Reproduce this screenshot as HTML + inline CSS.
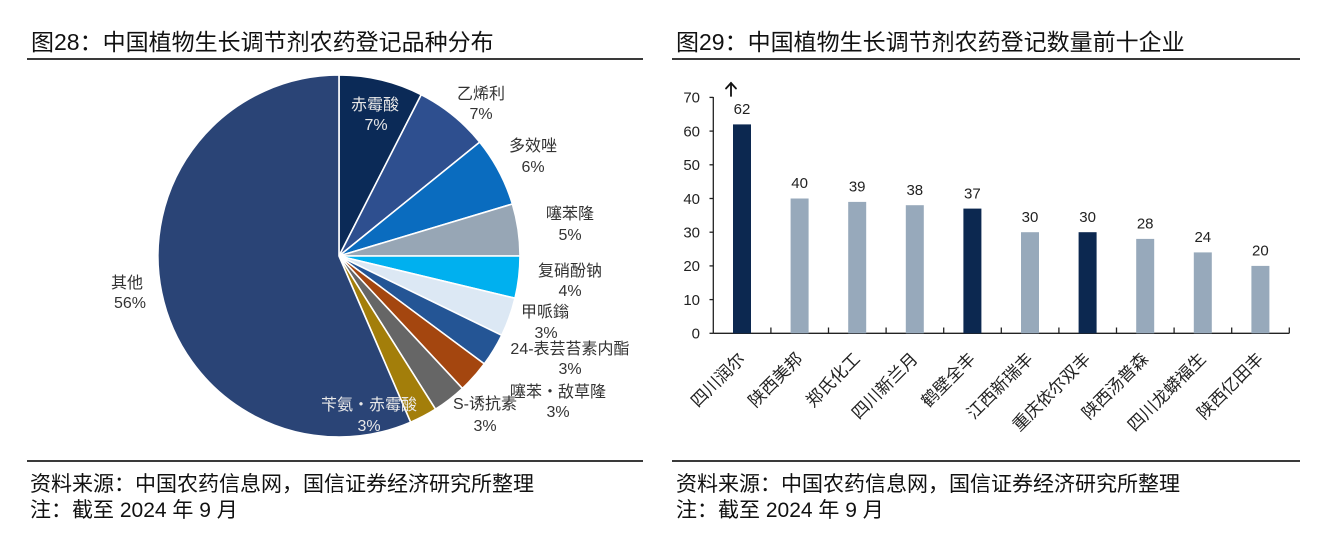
<!DOCTYPE html>
<html><head><meta charset="utf-8"><style>
html,body{margin:0;padding:0;background:#fff;}
svg{display:block;}
text{font-family:"Liberation Sans","Noto Sans CJK SC",sans-serif;}
</style></head><body>
<svg width="1328" height="533" viewBox="0 0 1328 533" xmlns="http://www.w3.org/2000/svg">
<rect width="1328" height="533" fill="#fff"/>
<!-- Titles -->
<text x="31" y="50" font-size="23" fill="#111">图28：中国植物生长调节剂农药登记品种分布</text>
<text x="676" y="50" font-size="23" fill="#111">图29：中国植物生长调节剂农药登记数量前十企业</text>
<line x1="27" y1="59" x2="643" y2="59" stroke="#3a3a3a" stroke-width="2"/>
<line x1="672" y1="59" x2="1300" y2="59" stroke="#3a3a3a" stroke-width="2"/>
<line x1="27" y1="461" x2="643" y2="461" stroke="#3a3a3a" stroke-width="2"/>
<line x1="672" y1="461" x2="1300" y2="461" stroke="#3a3a3a" stroke-width="2"/>
<!-- Footers -->
<text x="30" y="491" font-size="21" fill="#111">资料来源：中国农药信息网，国信证券经济研究所整理</text>
<text x="30" y="517" font-size="21" fill="#111">注：截至 2024 年 9 月</text>
<text x="676" y="491" font-size="21" fill="#111">资料来源：中国农药信息网，国信证券经济研究所整理</text>
<text x="676" y="517" font-size="21" fill="#111">注：截至 2024 年 9 月</text>

<!-- Pie -->
<g stroke="#fff" stroke-width="1.6" stroke-linejoin="round">
<path d="M339,256 L339,75 A181,181 0 0 1 421.2,94.7 Z" fill="#0b2a57"/>
<path d="M339,256 L421.2,94.7 A181,181 0 0 1 479.7,142.1 Z" fill="#2e4f8f"/>
<path d="M339,256 L479.7,142.1 A181,181 0 0 1 512.4,204.0 Z" fill="#0a6cbf"/>
<path d="M339,256 L512.4,204.0 A181,181 0 0 1 520,256 Z" fill="#97a6b5"/>
<path d="M339,256 L520,256 A181,181 0 0 1 515.0,298.2 Z" fill="#00b0ef"/>
<path d="M339,256 L515.0,298.2 A181,181 0 0 1 501.7,335.3 Z" fill="#dce8f4"/>
<path d="M339,256 L501.7,335.3 A181,181 0 0 1 484.3,363.9 Z" fill="#245595"/>
<path d="M339,256 L484.3,363.9 A181,181 0 0 1 462.4,388.4 Z" fill="#a4460f"/>
<path d="M339,256 L462.4,388.4 A181,181 0 0 1 435.5,409.2 Z" fill="#666666"/>
<path d="M339,256 L435.5,409.2 A181,181 0 0 1 410.6,422.2 Z" fill="#a37e0a"/>
<path d="M339,256 L410.6,422.2 A181,181 0 1 1 339,75 Z" fill="#2a4476"/>
</g>
<g font-size="16" text-anchor="middle" fill="#333">
<text x="375" y="110" fill="#e8e8e8">赤霉酸</text>
<text x="376" y="130" fill="#e8e8e8">7%</text>
<text x="481" y="99">乙烯利</text>
<text x="481" y="119">7%</text>
<text x="533" y="151">多效唑</text>
<text x="533" y="172">6%</text>
<text x="570" y="219">噻苯隆</text>
<text x="570" y="240">5%</text>
<text x="570" y="276">复硝酚钠</text>
<text x="570" y="296">4%</text>
<text x="545" y="317">甲哌鎓</text>
<text x="546" y="338">3%</text>
<text x="570" y="354">24-表芸苔素内酯</text>
<text x="570" y="374">3%</text>
<text x="558" y="397">噻苯・敌草隆</text>
<text x="558" y="417">3%</text>
<text x="485" y="409">S-诱抗素</text>
<text x="485" y="431">3%</text>
<text x="369" y="410" fill="#e8e8e8">苄氨・赤霉酸</text>
<text x="369" y="431" fill="#e8e8e8">3%</text>
<text x="127" y="288">其他</text>
<text x="130" y="308">56%</text>
</g>

<!-- Bar chart axes -->
<g stroke="#222" stroke-width="1.3" fill="none">
<line x1="713.3" y1="97" x2="713.3" y2="333.3"/>
<line x1="713.3" y1="333.3" x2="1289.3" y2="333.3"/>
<line x1="709.5" y1="333.3" x2="713.3" y2="333.3"/>
<line x1="709.5" y1="299.6" x2="713.3" y2="299.6"/>
<line x1="709.5" y1="265.9" x2="713.3" y2="265.9"/>
<line x1="709.5" y1="232.2" x2="713.3" y2="232.2"/>
<line x1="709.5" y1="198.5" x2="713.3" y2="198.5"/>
<line x1="709.5" y1="164.8" x2="713.3" y2="164.8"/>
<line x1="709.5" y1="131.1" x2="713.3" y2="131.1"/>
<line x1="709.5" y1="97.4" x2="713.3" y2="97.4"/>
<line x1="770.9" y1="327.5" x2="770.9" y2="333.3"/>
<line x1="828.5" y1="327.5" x2="828.5" y2="333.3"/>
<line x1="886.1" y1="327.5" x2="886.1" y2="333.3"/>
<line x1="943.7" y1="327.5" x2="943.7" y2="333.3"/>
<line x1="1001.3" y1="327.5" x2="1001.3" y2="333.3"/>
<line x1="1058.9" y1="327.5" x2="1058.9" y2="333.3"/>
<line x1="1116.5" y1="327.5" x2="1116.5" y2="333.3"/>
<line x1="1174.1" y1="327.5" x2="1174.1" y2="333.3"/>
<line x1="1231.7" y1="327.5" x2="1231.7" y2="333.3"/>
<line x1="1289.3" y1="327.5" x2="1289.3" y2="333.3"/>
</g>
<!-- arrow -->
<g stroke="#111" stroke-width="1.8" fill="none" stroke-linecap="round">
<line x1="731" y1="83" x2="731" y2="96"/>
<polyline points="726,88.5 731,83 736,88.5"/>
</g>
<g font-size="15" text-anchor="end" fill="#222">
<text x="700" y="338.6">0</text>
<text x="700" y="304.9">10</text>
<text x="700" y="271.2">20</text>
<text x="700" y="237.5">30</text>
<text x="700" y="203.8">40</text>
<text x="700" y="170.1">50</text>
<text x="700" y="136.4">60</text>
<text x="700" y="102.7">70</text>
</g>
<!-- Bars -->
<g>
<rect x="733" y="124.4" width="18" height="208.9" fill="#0c2850"/>
<rect x="790.6" y="198.5" width="18" height="134.8" fill="#97a9bb"/>
<rect x="848.2" y="201.9" width="18" height="131.4" fill="#97a9bb"/>
<rect x="905.8" y="205.2" width="18" height="128.1" fill="#97a9bb"/>
<rect x="963.4" y="208.6" width="18" height="124.7" fill="#0c2850"/>
<rect x="1021" y="232.2" width="18" height="101.1" fill="#97a9bb"/>
<rect x="1078.6" y="232.2" width="18" height="101.1" fill="#0c2850"/>
<rect x="1136.2" y="238.9" width="18" height="94.4" fill="#97a9bb"/>
<rect x="1193.8" y="252.4" width="18" height="80.9" fill="#97a9bb"/>
<rect x="1251.4" y="265.9" width="18" height="67.4" fill="#97a9bb"/>
</g>
<g font-size="15" text-anchor="middle" fill="#222">
<text x="742" y="114">62</text>
<text x="799.6" y="188">40</text>
<text x="857.2" y="191.5">39</text>
<text x="914.8" y="195">38</text>
<text x="972.4" y="198.5">37</text>
<text x="1030" y="222">30</text>
<text x="1087.6" y="222">30</text>
<text x="1145.2" y="228.5">28</text>
<text x="1202.8" y="242">24</text>
<text x="1260.4" y="255.5">20</text>
</g>
<g font-size="17" text-anchor="end" fill="#222">
<text transform="translate(746,360) rotate(-45)">四川润尔</text>
<text transform="translate(803.6,360) rotate(-45)">陕西美邦</text>
<text transform="translate(861.2,360) rotate(-45)">郑氏化工</text>
<text transform="translate(918.8,360) rotate(-45)">四川新兰月</text>
<text transform="translate(976.4,360) rotate(-45)">鹤壁全丰</text>
<text transform="translate(1034,360) rotate(-45)">江西新瑞丰</text>
<text transform="translate(1091.6,360) rotate(-45)">重庆依尔双丰</text>
<text transform="translate(1149.2,360) rotate(-45)">陕西汤普森</text>
<text transform="translate(1206.8,360) rotate(-45)">四川龙蟒福生</text>
<text transform="translate(1264.4,360) rotate(-45)">陕西亿田丰</text>
</g>
</svg>
</body></html>
